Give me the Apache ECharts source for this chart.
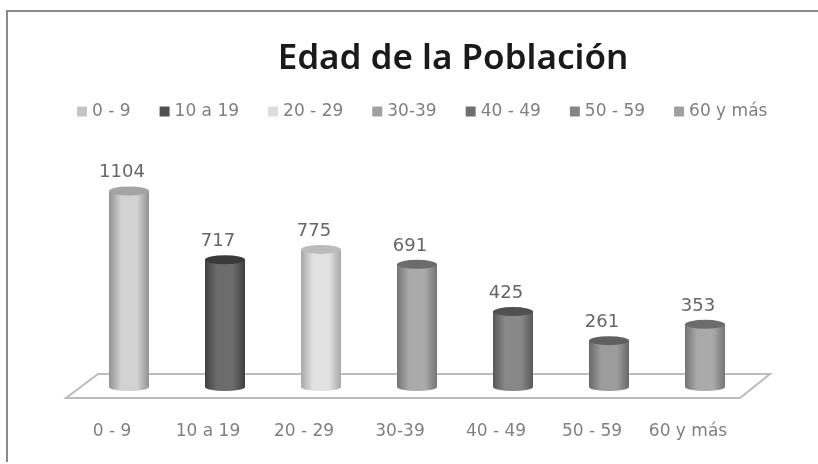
<!DOCTYPE html>
<html>
<head>
<meta charset="utf-8">
<style>
  html, body { margin: 0; padding: 0; background: #fff; }
  #chart { width: 818px; height: 464px; }
</style>
<script src="https://cdn.jsdelivr.net/npm/echarts@6/dist/echarts.min.js"></script>
</head>
<body>
<div id="chart"></div>
<script>
const categories = ["0 - 9", "10 a 19", "20 - 29", "30-39", "40 - 49", "50 - 59", "60 y más"];
const values = [1104, 717, 775, 691, 425, 261, 353];
const zeros = [0, 0, 0, 0, 0, 0, 0];
const edgeColors = ["#929292", "#404040", "#a8a8a8", "#747474", "#585858", "#686868", "#747474"];
const midColors = ["#d2d2d2", "#6c6c6c", "#e2e2e2", "#aaaaaa", "#888888", "#9c9c9c", "#aaaaaa"];
const capColors = ["#a4a4a4", "#3a3a3a", "#bcbcbc", "#6c6c6c", "#505050", "#606060", "#6c6c6c"];
const legendColors = ["#c4c4c4", "#505050", "#dcdcdc", "#a0a0a0", "#707070", "#858585", "#a0a0a0"];

const textFont = "DejaVu Sans";

const cylinder = (i) =>
  new echarts.graphic.LinearGradient(0, 0, 1, 0, [
    { offset: 0, color: edgeColors[i] },
    { offset: 0.3, color: midColors[i] },
    { offset: 0.7, color: midColors[i] },
    { offset: 1, color: edgeColors[i] },
  ]);

// one series per age group so the legend gets all seven
const barSeries = categories.map((name, i) => ({
  name: name,
  type: "bar",
  barWidth: 40,
  barGap: "-100%",
  z: 3,
  itemStyle: { color: cylinder(i) },
  data: values.map((v, j) => (j === i ? v : null)),
}));

const chart = echarts.init(document.getElementById("chart"));

chart.setOption({
  animation: false,
  backgroundColor: "#fff",
  title: {
    text: "Edad de la Población",
    left: 448,
    top: 37,
    textAlign: "center",
    textStyle: { fontFamily: "Noto Sans", fontSize: 35, fontWeight: 600, color: "#1a1a1a" },
  },
  legend: {
    top: 98,
    left: 72,
    icon: "rect",
    itemWidth: 10,
    itemHeight: 10,
    itemGap: 29,
    textStyle: { fontFamily: textFont, fontSize: 17, color: "#808080" },
    data: categories.map((name, i) => ({ name: name, itemStyle: { color: legendColors[i] } })),
  },
  grid: { left: 81, right: 65, top: 174, bottom: 77 },
  xAxis: {
    type: "category",
    data: categories,
    axisLine: { show: false },
    axisTick: { show: false },
    axisLabel: {
      interval: 0,
      margin: 36,
      padding: [0, 34, 0, 0], // labels sit left of the cylinders
      fontFamily: textFont,
      fontSize: 17,
      color: "#808080",
    },
  },
  yAxis: { type: "value", min: 0, max: 1200, show: false },
  graphic: [
    {
      type: "polyline",
      silent: true,
      shape: { points: [[7, 462], [7, 11], [818, 11]] },
      style: { fill: null, stroke: "#8a8a8a", lineWidth: 2 },
    },
  ],
  series: [
    {
      // the floor the cylinders stand on
      type: "custom",
      silent: true,
      z: 1,
      clip: false,
      data: [0],
      renderItem: (params, api) => {
        const first = api.coord([0, 0]);
        const last = api.coord([categories.length - 1, 0]);
        return {
          type: "polygon",
          shape: {
            points: [
              [first[0] - 31, first[1] - 13],
              [last[0] + 65, last[1] - 13],
              [last[0] + 35, last[1] + 11],
              [first[0] - 63, first[1] + 11],
            ],
          },
          style: { fill: "#fff", stroke: "#bcbcbc", lineWidth: 2 },
        };
      },
    },
    {
      type: "pictorialBar",
      symbol: "circle",
      symbolSize: [40, 8],
      symbolPosition: "start",
      symbolOffset: [0, "50%"],
      z: 2,
      data: zeros.map((v, i) => ({ value: v, itemStyle: { color: cylinder(i) } })),
    },
    ...barSeries,
    {
      type: "pictorialBar",
      symbol: "circle",
      symbolSize: [40, 9],
      symbolPosition: "end",
      symbolOffset: [0, "-50%"],
      z: 4,
      label: {
        show: true,
        position: "top",
        distance: 5,
        offset: [-7, 0],
        fontFamily: textFont,
        fontSize: 18,
        color: "#666",
      },
      data: values.map((v, i) => ({ value: v, itemStyle: { color: capColors[i] } })),
    },
  ],
});

window.addEventListener("resize", () => chart.resize());
</script>
</body>
</html>
